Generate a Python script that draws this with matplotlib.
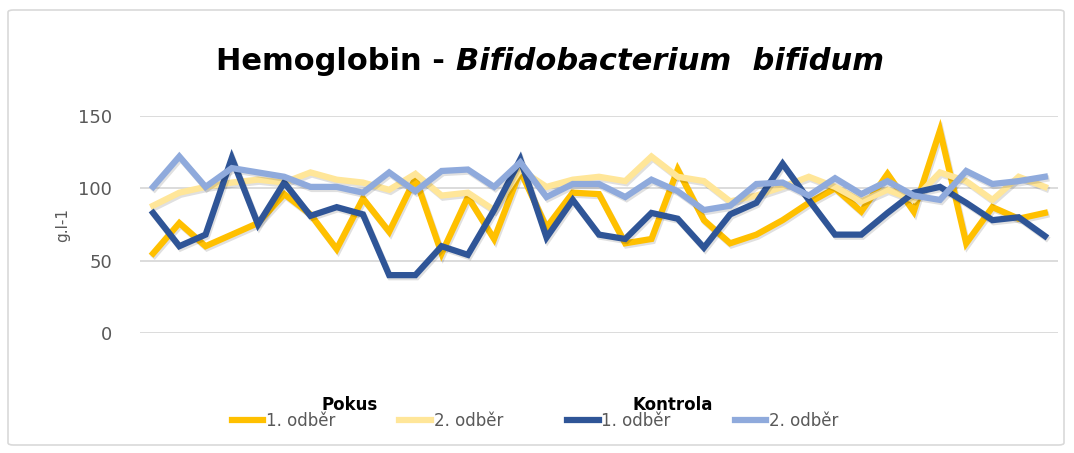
import matplotlib.pyplot as plt
import matplotlib.patheffects as pe
from matplotlib.patches import FancyBboxPatch
from matplotlib.lines import Line2D
import numpy as np

# Values (35 samples per series)
pokus_1 = [55, 76, 60, 68, 76, 96, 82, 58, 93, 70, 107, 55, 94, 65, 112,
           73, 97, 96, 62, 65, 113, 78, 62, 68, 78, 90, 100, 84, 110, 84,
           140, 62, 87, 79, 83]
pokus_2 = [88, 97, 101, 104, 106, 104, 111, 106, 104, 99, 110, 95, 97, 85, 113,
           101, 106, 108, 105, 122, 108, 105, 91, 95, 101, 108, 101, 91, 99, 92,
           111, 105, 92, 108, 101]
kontrola_1 = [83, 60, 68, 121, 75, 104, 81, 87, 82, 40, 40, 60, 54, 85, 120,
              66, 92, 68, 65, 83, 79, 59, 82, 90, 117, 92, 68, 68, 83, 97,
              101, 90, 78, 80, 67]
kontrola_2 = [101, 122, 101, 114, 111, 108, 101, 101, 97, 111, 98, 112, 113, 101, 118,
              94, 103, 103, 94, 106, 98, 85, 88, 103, 104, 95, 107, 96, 105, 95,
              92, 112, 103, 105, 108]

series_labels = ['1. odběr', '2. odběr', '1. odběr', '2. odběr']
colors = ['#FFC000', '#FFE699', '#2F5597', '#8FAADC']
yticks = [0, 50, 100, 150]

fig = plt.figure(figsize=(10.74, 4.53), dpi=100)

# chart border
border = FancyBboxPatch((8 / 1074, 8 / 453), 1056 / 1074, 435 / 453,
                        boxstyle='round,pad=0,rounding_size=0.005',
                        transform=fig.transFigure, fill=False,
                        edgecolor='#D9D9D9', linewidth=1.2)
fig.patches.append(border)

ax = fig.add_axes([140 / 1074, 1 - 333 / 453, 918 / 1074, 217 / 453])
x = np.arange(len(pokus_1))
shadow = [pe.SimpleLineShadow(offset=(1, -1.5), alpha=0.12), pe.Normal()]
for data, c in zip([pokus_1, pokus_2, kontrola_1, kontrola_2], colors):
    ax.plot(x, data, color=c, linewidth=4.5, solid_joinstyle='miter',
            path_effects=shadow)

ax.set_xlim(-0.5, len(x) - 0.5)
ax.set_ylim(0, 150)
ax.set_yticks(yticks)
ax.set_xticks([])
ax.grid(axis='y', color='#D9D9D9', linewidth=1.3)
ax.set_axisbelow(True)
for s in ax.spines.values():
    s.set_visible(False)
ax.tick_params(axis='y', length=0, pad=20, labelsize=13, labelcolor='#595959')
ax.set_ylabel('g.l-1', fontsize=11, color='#595959', labelpad=6)

# title: bold part + bold italic part
fig.canvas.draw()
r = fig.canvas.get_renderer()
t1 = fig.text(0, 62 / 453, 'Hemoglobin - ', fontsize=22, fontweight='bold',
              va='center')
t2 = fig.text(0, 62 / 453, 'Bifidobacterium  bifidum', fontsize=22,
              fontweight='bold', style='italic', va='center')
w1 = t1.get_window_extent(r).width
w2 = t2.get_window_extent(r).width
start = 550 - (w1 + w2) / 2
t1.set_position((start / 1074, 1 - 62 / 453))
t2.set_position(((start + w1) / 1074, 1 - 62 / 453))

handles = [Line2D([], [], color=c, linewidth=4.5) for c in colors]
fig.legend(handles, series_labels, loc='center', ncol=4,
           bbox_to_anchor=(535 / 1074, 1 - 421 / 453), frameon=False,
           fontsize=12, handlelength=1.9, handletextpad=0.15,
           columnspacing=3.85, labelcolor='#595959')
fig.text(350 / 1074, 1 - 405 / 453, 'Pokus', fontsize=12, fontweight='bold',
         ha='center', va='center')
fig.text(673 / 1074, 1 - 405 / 453, 'Kontrola', fontsize=12, fontweight='bold',
         ha='center', va='center')

fig.savefig('out.png', dpi=100)
